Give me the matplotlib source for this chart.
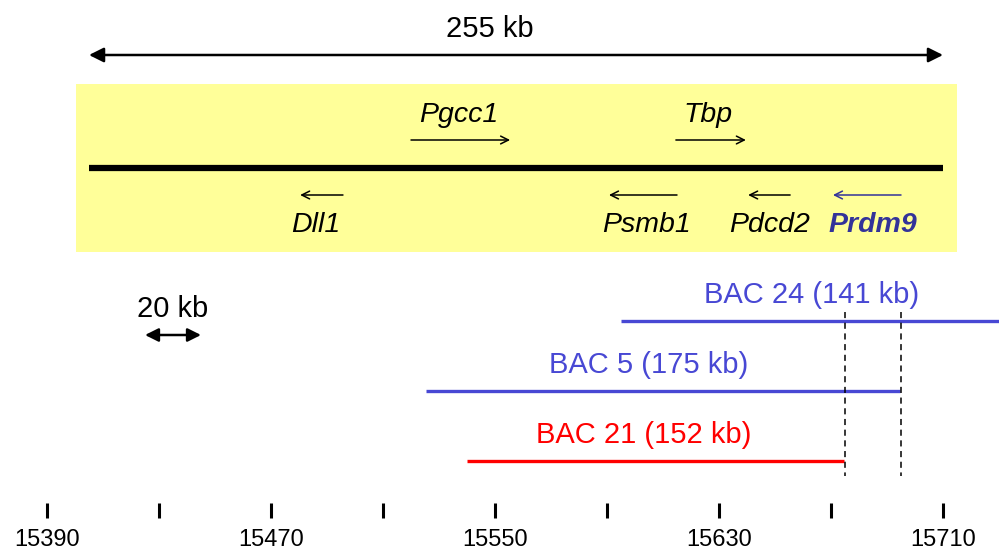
import matplotlib
matplotlib.use("Agg")
import matplotlib.pyplot as plt
from matplotlib.patches import Rectangle

# ---------------- data (kb coordinates) ----------------
tick_positions = [15390, 15430, 15470, 15510, 15550, 15590, 15630, 15670, 15710]
tick_labels = ["15390", "", "15470", "", "15550", "", "15630", "", "15710"]

region_start, region_end = 15405, 15710          # 255 kb region
region_label = "255 kb"
region_label_x = 15548
box_start, box_end = 15400.4, 15715

# genes: name, arrow tail -> head, above/below line, colour, bold, label x
gene_names = ["Pgcc1", "Tbp", "Dll1", "Psmb1", "Pdcd2", "Prdm9"]
gene_tail = [15520, 15614.6, 15495.7, 15615, 15655.4, 15695]
gene_head = [15555.4, 15639.6, 15480.4, 15590.7, 15640.4, 15670.7]
gene_above = [True, True, False, False, False, False]
gene_colors = ["black", "black", "black", "black", "black", "#333399"]
gene_bold = [False, False, False, False, False, True]
gene_label_x = [15537, 15626, 15486, 15604, 15648, 15685]

scale_start, scale_end = 15425, 15445
scale_label = "20 kb"

bac_names = ["BAC 24 (141 kb)", "BAC 5 (175 kb)", "BAC 21 (152 kb)"]
bac_start = [15595, 15525.4, 15540]
bac_end = [15735, 15694.6, 15674.6]
bac_label_x = [15663, 15605, 15603]
bac_colors = ["#4848D4", "#4848D4", "#FF0000"]

breakpoints = [15675, 15695]

# ---------------- figure ----------------
plt.rcParams['font.family'] = ['Liberation Sans', 'DejaVu Sans']
fig = plt.figure(figsize=(9.99, 5.52), dpi=100)
ax = fig.add_axes([0, 0, 1, 1])
px = 2.8  # pixels per kb
x0 = 15390 - 47 / px
ax.set_xlim(x0, x0 + 999 / px)
ax.set_ylim(552, 0)
ax.axis("off")

# region arrow
ax.annotate("", xy=(region_start, 55), xytext=(region_end, 55),
            arrowprops=dict(arrowstyle="<|-|>", color="black", lw=1.8,
                            mutation_scale=22, shrinkA=0, shrinkB=0))
ax.text(region_label_x, 29, region_label, fontsize=21,
        ha="center", va="center")

# yellow box
ax.add_patch(Rectangle((box_start, 84), box_end - box_start, 168,
                       facecolor="#FFFF99", edgecolor="none", zorder=0))

# chromosome line
ax.plot([region_start, region_end], [168, 168], color="black", lw=4.5,
        solid_capstyle="butt", zorder=2)

# genes
for name, t, h, above, c, b, lx in zip(gene_names, gene_tail, gene_head,
                                        gene_above, gene_colors, gene_bold,
                                        gene_label_x):
    ya = 140 if above else 195
    yl = 115 if above else 225
    ax.annotate("", xy=(h, ya), xytext=(t, ya),
                arrowprops=dict(arrowstyle="->", color=c, lw=1.1,
                                mutation_scale=14, shrinkA=0, shrinkB=0))
    ax.text(lx, yl, name, fontsize=20.5, style="italic",
            fontweight="bold" if b else "normal", color=c,
            ha="center", va="center")

# scale arrow
ax.annotate("", xy=(scale_start, 335), xytext=(scale_end, 335),
            arrowprops=dict(arrowstyle="<|-|>", color="black", lw=1.8,
                            mutation_scale=20, shrinkA=0, shrinkB=0))
ax.text((scale_start + scale_end) / 2, 309, scale_label, fontsize=21,
        ha="center", va="center")

# BACs
bac_y = [321, 391, 461]
for name, s, e, lx, c, y in zip(bac_names, bac_start, bac_end, bac_label_x,
                                bac_colors, bac_y):
    ax.plot([s, e], [y, y], color=c, lw=2.4, solid_capstyle="butt")
    ax.text(lx, y - 26, name, fontsize=21, color=c, ha="center", va="center")

# breakpoint dashed lines
for bp in breakpoints:
    ax.plot([bp, bp], [312, 476], color="black", lw=1.1, ls=(0, (4, 3)))

# axis ticks
for tp, tl in zip(tick_positions, tick_labels):
    ax.plot([tp, tp], [503, 518], color="black", lw=2.2, solid_capstyle="butt")
    if tl:
        ax.text(tp, 540, tl, fontsize=17, ha="center", va="center")

fig.savefig("out.png", dpi=100)
